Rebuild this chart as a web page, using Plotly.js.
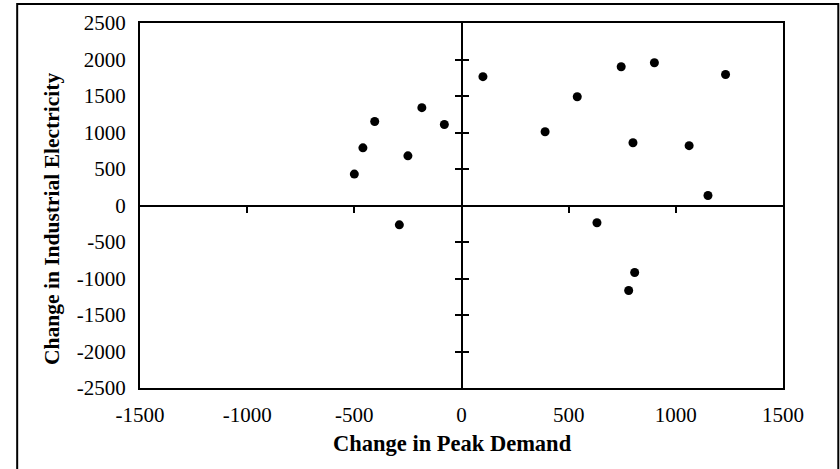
<!DOCTYPE html>
<html>
<head>
<meta charset="utf-8">
<script src="https://cdn.plot.ly/plotly-3.0.1.min.js"></script>
<style>
html,body{margin:0;padding:0;background:#fff;}
#chart{width:840px;height:469px;}
</style>
</head>
<body>
<div id="chart"></div>
<script>
const peakDemand = [-500, -460, -405, -250, -185, -80, -290, 100, 390, 540, 745, 900, 800, 1062, 1232, 1150, 632, 808, 780];
const industrialElec = [430, 790, 1150, 680, 1340, 1110, -265, 1765, 1010, 1490, 1900, 1955, 860, 820, 1795, 137, -237, -918, -1165];

const xTicks = [-1500, -1000, -500, 0, 500, 1000, 1500];
const yTicks = [-2500, -2000, -1500, -1000, -500, 0, 500, 1000, 1500, 2000, 2500];
const xInnerTicks = [-1000, -500, 500, 1000];
const yInnerTicks = [-2000, -1500, -1000, -500, 500, 1000, 1500, 2000];
const xTitle = 'Change in Peak Demand';
const yTitle = 'Change in Industrial Electricity';

const FONT = '"Palatino Linotype", "Book Antiqua", Palatino, "Liberation Serif", "DejaVu Serif", serif';

const traces = [
  {
    x: peakDemand, y: industrialElec,
    type: 'scatter', mode: 'markers',
    marker: {color: '#000', size: 9},
    xaxis: 'x', yaxis: 'y', hoverinfo: 'skip'
  },
  {x: [0], y: [0], type: 'scatter', mode: 'markers', marker: {opacity: 0}, xaxis: 'x2', yaxis: 'y2', hoverinfo: 'skip'},
  {x: [0], y: [0], type: 'scatter', mode: 'markers', marker: {opacity: 0}, xaxis: 'x2', yaxis: 'y3', hoverinfo: 'skip'}
];

const layout = {
  width: 840, height: 469,
  margin: {l: 140, r: 57, t: 23, b: 81},
  paper_bgcolor: '#fff', plot_bgcolor: '#fff',
  showlegend: false,
  font: {family: FONT, size: 21, color: '#000'},
  xaxis: {
    range: [-1500, 1500], tickvals: xTicks, ticktext: xTicks.map(String),
    showgrid: false, zeroline: false, showline: true, mirror: true,
    linecolor: '#000', linewidth: 2, ticks: '', ticklen: 0,
    ticklabelstandoff: 7,
    tickfont: {family: FONT, size: 21, color: '#000'},
    fixedrange: true
  },
  yaxis: {
    range: [-2500, 2500], tickvals: yTicks, ticktext: yTicks.map(String),
    showgrid: false, zeroline: false, showline: true, mirror: true,
    linecolor: '#000', linewidth: 2, ticks: '', ticklen: 0,
    ticklabelstandoff: 8,
    tickfont: {family: FONT, size: 21, color: '#000'},
    fixedrange: true
  },
  xaxis2: {
    overlaying: 'x', anchor: 'free', position: 0.5, side: 'bottom',
    range: [-1500, 1500], tickvals: xInnerTicks, showticklabels: false,
    showgrid: false, zeroline: false, showline: true,
    linecolor: '#000', linewidth: 2, ticks: 'outside', ticklen: 6, tickwidth: 2, tickcolor: '#000',
    fixedrange: true
  },
  yaxis2: {
    overlaying: 'y', anchor: 'free', position: 0.5, side: 'left',
    range: [-2500, 2500], tickvals: yInnerTicks, showticklabels: false,
    showgrid: false, zeroline: false, showline: true,
    linecolor: '#000', linewidth: 2, ticks: 'outside', ticklen: 6, tickwidth: 2, tickcolor: '#000',
    fixedrange: true
  },
  yaxis3: {
    overlaying: 'y', anchor: 'free', position: 0.5, side: 'left',
    range: [-2500, 2500], tickvals: yInnerTicks, showticklabels: false,
    showgrid: false, zeroline: false, showline: false,
    ticks: 'inside', ticklen: 6, tickwidth: 2, tickcolor: '#000',
    fixedrange: true
  },
  annotations: [
    {text: '<b>' + xTitle + '</b>', xref: 'paper', yref: 'paper', x: 0.4857, y: -0.153,
     xanchor: 'center', yanchor: 'middle', showarrow: false,
     font: {family: FONT, size: 22.5, color: '#000'}},
    {text: '<b>' + yTitle + '</b>', xref: 'paper', yref: 'paper', x: -0.137, y: 0.463,
     xanchor: 'center', yanchor: 'middle', showarrow: false, textangle: -90,
     font: {family: FONT, size: 21.5, color: '#000'}}
  ],
  shapes: [
    {type: 'rect', xref: 'paper', yref: 'paper', x0: -0.191, x1: 1.086, y0: -0.4, y1: 1.052,
     line: {color: '#000', width: 2}, fillcolor: 'rgba(0,0,0,0)', layer: 'below'}
  ]
};

Plotly.newPlot('chart', traces, layout, {displayModeBar: false, staticPlot: true});
</script>
</body>
</html>
